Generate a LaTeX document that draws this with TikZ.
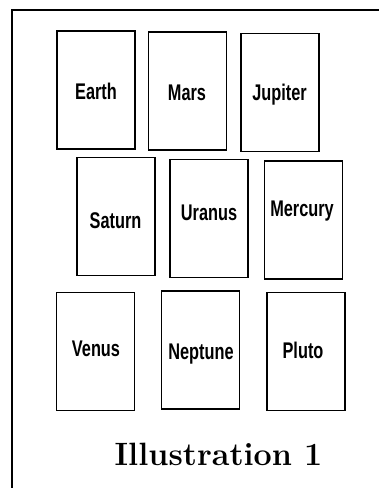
\documentclass[tikz,border=0pt]{standalone}
\usepackage{fontspec}
\usepackage{tikz}
\usetikzlibrary{positioning}
\newfontfamily\planetfont[FakeStretch=0.72]{Liberation Sans}

\begin{document}
\begin{tikzpicture}[x=0.75pt, y=-0.75pt,
		card/.style={draw, line width=0.8pt, minimum width=58.5pt, minimum height=88.5pt, inner sep=0pt},
		planet/.style={anchor=base, inner sep=0pt, font=\planetfont\bfseries\fontsize{17}{19}\selectfont},
		caption/.style={anchor=base, inner sep=0pt, font=\bfseries\fontsize{24.2}{29}\selectfont}]
		\useasboundingbox (0,0) rectangle (379,488);
		
		\coordinate (frameBL) at (12,488);
		\coordinate (frameTL) at (12,10);
		\coordinate (frameTR) at (379,10);
		\draw[line width=2pt] (frameBL) -- (frameTL) -- (frameTR);
		
		\node[card] (earth)   at (96,90)      {};
		\node[card] (mars)    at (187.5,91)   {};
		\node[card] (jupiter) at (280,92.5)   {};
		\node[card] (saturn)  at (116,216.5)  {};
		\node[card] (uranus)  at (209,218.5)  {};
		\node[card] (mercury) at (303.5,220)  {};
		\node[card] (venus)   at (95.5,351.5) {};
		\node[card] (neptune) at (200.5,350)  {};
		\node[card] (pluto)   at (306,351.5)  {};
		
		\node[planet] (earthname)   at (96,100)    {Earth};
		\node[planet] (marsname)    at (187,101)   {Mars};
		\node[planet] (jupitername) at (279.5,101) {Jupiter};
		\node[planet] (saturnname)  at (115.5,228) {Saturn};
		\node[planet] (uranusname)  at (209,220.5) {Uranus};
		\node[planet] (mercuryname) at (302,216.5) {Mercury};
		\node[planet] (venusname)   at (96,356)    {Venus};
		\node[planet] (neptunename) at (201,359.5) {Neptune};
		\node[planet] (plutoname)   at (303,358)   {Pluto};
		
		\node[caption] (title) at (218.5,465.5) {Illustration 1};
	\end{tikzpicture}
\end{document}
